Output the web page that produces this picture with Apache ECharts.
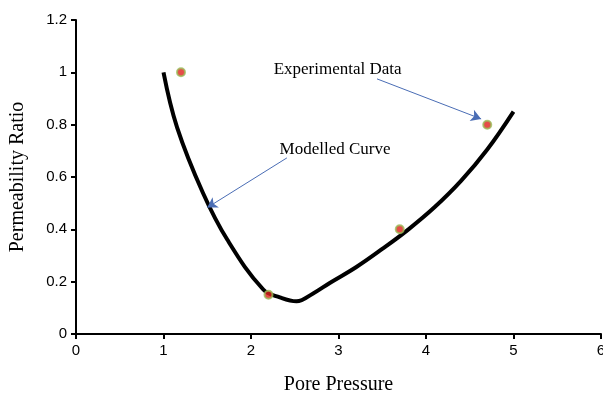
<!DOCTYPE html>
<html>
<head>
<meta charset="utf-8">
<script src="https://cdn.jsdelivr.net/npm/echarts@6/dist/echarts.min.js"></script>
<style>
  html, body { margin: 0; padding: 0; background: #fff; }
  #chart { width: 603px; height: 395px; }
</style>
</head>
<body>
<div id="chart"></div>
<script>
// Modelled permeability ratio against pore pressure
const curveX = [1.0, 1.155, 1.45, 1.73, 2.14, 2.33, 2.52, 2.71, 2.9, 3.2, 3.5, 3.8, 4.1, 4.4, 4.7, 5.0];
const curveY = [1.0, 0.79, 0.54, 0.36, 0.17, 0.14, 0.125, 0.155, 0.195, 0.255, 0.325, 0.40, 0.485, 0.585, 0.705, 0.85];

// Measured points
const expX = [1.2, 2.2, 3.7, 4.7];
const expY = [1.0, 0.15, 0.4, 0.8];

// Annotation callouts: label position and arrow (from -> to) in data units
const notes = [
  { text: 'Experimental Data', at: [2.99, 1.012], from: [3.44, 0.975], to: [4.63, 0.822] },
  { text: 'Modelled Curve', at: [2.96, 0.706], from: [2.41, 0.673], to: [1.5, 0.483] }
];

const serif = '"Liberation Serif", "Times New Roman", serif';
const sans = '"Liberation Sans", Arial, sans-serif';

const chart = echarts.init(document.getElementById('chart'), null, { renderer: 'canvas' });

chart.setOption({
  animation: false,
  backgroundColor: '#fff',
  grid: { left: 76, right: 2, top: 20, bottom: 61, outerBoundsMode: 'none', containLabel: false },
  xAxis: {
    type: 'value', min: 0, max: 6, interval: 1,
    name: 'Pore Pressure', nameLocation: 'middle', nameGap: 41,
    nameTextStyle: { fontFamily: serif, fontSize: 20, color: '#000' },
    axisLine: { lineStyle: { color: '#000', width: 2 } },
    axisTick: { show: true, length: 5, lineStyle: { color: '#000', width: 2 } },
    axisLabel: { fontFamily: sans, fontSize: 15, color: '#000', margin: 9 },
    splitLine: { show: false }
  },
  yAxis: {
    type: 'value', min: 0, max: 1.2, interval: 0.2,
    name: 'Permeability Ratio', nameLocation: 'middle', nameGap: 48,
    nameTextStyle: { fontFamily: serif, fontSize: 20, color: '#000' },
    axisLine: { show: true, lineStyle: { color: '#000', width: 2 } },
    axisTick: { show: true, length: 5, lineStyle: { color: '#000', width: 2 } },
    axisLabel: { fontFamily: sans, fontSize: 15, color: '#000', margin: 9 },
    splitLine: { show: false }
  },
  series: [
    {
      type: 'line',
      data: curveX.map((x, i) => [x, curveY[i]]),
      smooth: 0.4,
      showSymbol: false,
      lineStyle: { color: '#000', width: 4 },
      z: 2,
      markLine: {
        silent: true,
        symbol: ['none', 'arrow'],
        symbolSize: [9, 10],
        label: { show: false },
        lineStyle: { color: '#4a6db5', width: 1, type: 'solid' },
        data: notes.map(n => [{ coord: n.from }, { coord: n.to }])
      },
      markPoint: {
        silent: true,
        symbol: 'circle', symbolSize: 0,
        data: notes.map(n => ({
          coord: n.at,
          label: {
            show: true, position: 'inside', formatter: n.text,
            fontFamily: serif, fontSize: 17, color: '#000'
          }
        }))
      }
    },
    {
      type: 'scatter',
      data: expX.map((x, i) => [x, expY[i]]),
      symbol: 'circle', symbolSize: 8,
      itemStyle: { color: '#e0201c', borderColor: '#9bbb59', borderWidth: 2 },
      z: 3
    }
  ]
});
</script>
</body>
</html>
